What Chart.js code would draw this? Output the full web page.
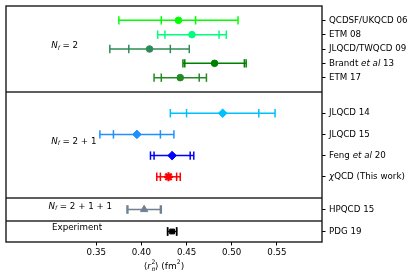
<!DOCTYPE html>
<html lang="en">
<head>
<meta charset="UTF-8">
<title>Pion charge radius</title>
<script src="https://cdn.jsdelivr.net/npm/chart.js"></script>
<style>
    html, body { margin: 0; padding: 0; background: #fff; }
    #wrap { position: relative; width: 415px; height: 280px; }
    canvas { position: absolute; left: 0; display: block; }
</style>
</head>
<body>
<div id="wrap">
    <canvas id="g0" width="415" height="92" style="top:0px"></canvas>
    <canvas id="g1" width="415" height="106" style="top:92px"></canvas>
    <canvas id="g2" width="415" height="23" style="top:198px"></canvas>
    <canvas id="g3" width="415" height="59" style="top:221px"></canvas>
</div>
<script>
// data (top to bottom)
const labels = ['QCDSF/UKQCD 06', 'ETM 08', 'JLQCD/TWQCD 09', 'Brandt *et al* 13', 'ETM 17',
                'JLQCD 14', 'JLQCD 15', 'Feng *et al* 20', '*χ*QCD (This work)',
                'HPQCD 15', 'PDG 19'];
const values   = [0.441, 0.456, 0.409, 0.481, 0.443, 0.490, 0.395, 0.434, 0.430, 0.403, 0.434];
const statErr  = [0.019, 0.030, 0.023, 0.033, 0.021, 0.040, 0.026, 0.020, 0.009, 0.018, 0.005];
const totalErr = [0.066, 0.038, 0.044, 0.035, 0.029, 0.058, 0.041, 0.024, 0.013, 0.019, 0.005];
const group    = [0, 0, 0, 0, 0, 1, 1, 1, 1, 2, 3];
const groupTitles = ['N_f = 2', 'N_f = 2 + 1', 'N_f = 2 + 1 + 1', 'Experiment'];
const xTicks = [0.35, 0.40, 0.45, 0.50, 0.55];

// styles
const colors  = ['#00ff00', '#00ff7f', '#2e8b57', '#008000', '#228b22',
                 '#00bfff', '#1e90ff', '#0000ff', '#ff0000', '#708090', '#000000'];
const markers = ['circle', 'circle', 'circle', 'circle', 'circle',
                 'rectRot', 'rectRot', 'rectRot', 'star', 'triangle', 'rect'];
const markerSize = { circle: 3.3, rectRot: 4.3, star: 4.5, triangle: 4.2, rect: 3.4 };
const titleAt = [[0.300, 1.8], [0.300, 1.33], [0.297, -0.24], [0.301, -0.33]];

const FONT = 'DejaVu Sans';
const FS = 8.7;

function drawParts(ctx, parts, x, y) {
    parts.forEach(p => {
        ctx.font = (p.it ? 'italic ' : '') + p.size + 'px "' + FONT + '"';
        ctx.fillText(p.t, x, y + (p.dy || 0));
        x += ctx.measureText(p.t).width;
    });
}
// *...* marks italic text
function parseLabel(s) {
    return s.split('*').map((t, k) => ({ t: t, it: k % 2 === 1, size: FS })).filter(p => p.t);
}
function parseTitle(s) {
    if (s.startsWith('N_f')) {
        return [{ t: 'N', it: true, size: FS }, { t: 'f', it: true, size: FS * 0.7, dy: 2 },
                { t: s.slice(3), size: FS }];
    }
    return [{ t: s, size: FS }];
}

function makeChart(g) {
    const idx = labels.map((_, i) => i).filter(i => group[i] === g);
    const n = idx.length;
    const last = g === 3;

    const deco = {
        id: 'deco' + g,
        beforeDatasetsDraw(chart) {
            const ctx = chart.ctx, xs = chart.scales.x, ys = chart.scales.y;
            ctx.save();
            idx.forEach((i, j) => {
                const y = ys.getPixelForValue(j);
                ctx.strokeStyle = colors[i];
                ctx.lineWidth = 1.5;
                ctx.beginPath();
                ctx.moveTo(xs.getPixelForValue(values[i] - totalErr[i]), y);
                ctx.lineTo(xs.getPixelForValue(values[i] + totalErr[i]), y);
                ctx.stroke();
                [values[i] - statErr[i], values[i] + statErr[i], values[i] - totalErr[i], values[i] + totalErr[i]].forEach(v => {
                    const x = xs.getPixelForValue(v);
                    ctx.beginPath();
                    ctx.moveTo(x, y - 4.2);
                    ctx.lineTo(x, y + 4.2);
                    ctx.stroke();
                });
            });
            ctx.restore();
        },
        afterDraw(chart) {
            const ctx = chart.ctx, xs = chart.scales.x, ys = chart.scales.y, a = chart.chartArea;
            ctx.save();
            // frame
            ctx.strokeStyle = '#1a1a1a';
            ctx.lineWidth = 1.4;
            ctx.strokeRect(a.left, a.top, a.right - a.left, a.bottom - a.top);
            // y labels on the right
            ctx.fillStyle = '#000';
            ctx.textBaseline = 'middle';
            ctx.textAlign = 'left';
            idx.forEach((i, j) => {
                drawParts(ctx, parseLabel(labels[i]), a.right + 7, ys.getPixelForValue(j));
            });
            // group title
            drawParts(ctx, parseTitle(groupTitles[g]), xs.getPixelForValue(titleAt[g][0]), ys.getPixelForValue(titleAt[g][1]));
            // x axis title
            if (last) {
                const cx = (a.left + a.right) / 2, cy = a.bottom + 24.7;
                const big = FS + 0.3, small = FS * 0.7;
                const f = (it, s) => (it ? 'italic ' : '') + s + 'px "' + FONT + '"';
                const segs = [['⟨', false, big], ['r', true, big], ['  ', false, small], ['⟩ (fm', false, big], ['2', false, small], [')', false, big]];
                let w = 0;
                segs.forEach(s => { ctx.font = f(s[1], s[2]); w += ctx.measureText(s[0]).width; });
                let x = cx - w / 2;
                segs.forEach((s, k) => {
                    ctx.font = f(s[1], s[2]);
                    const sw = ctx.measureText(s[0]).width;
                    if (k === 2) {
                        ctx.font = f(false, small);
                        ctx.fillText('2', x + 0.5, cy - 4);
                        ctx.font = f(true, small);
                        ctx.fillText('π', x + 0.5, cy + 3);
                    } else if (k === 4) {
                        ctx.fillText(s[0], x, cy - 4);
                    } else {
                        ctx.fillText(s[0], x, cy);
                    }
                    x += sw;
                });
            }
            ctx.restore();
        }
    };

    return new Chart(document.getElementById('g' + g), {
        type: 'scatter',
        data: {
            datasets: [{
                data: idx.map((i, j) => ({ x: values[i], y: j })),
                pointStyle: idx.map(i => markers[i]),
                pointRadius: idx.map(i => markerSize[markers[i]]),
                pointBackgroundColor: idx.map(i => colors[i]),
                pointBorderColor: idx.map(i => colors[i]),
                pointBorderWidth: idx.map(i => markers[i] === 'star' ? 2.2 : 1),
                pointHoverRadius: idx.map(i => markerSize[markers[i]]),
                clip: false
            }]
        },
        options: {
            responsive: false,
            maintainAspectRatio: false,
            devicePixelRatio: 1,
            animation: false,
            layout: { autoPadding: false, padding: { left: 6, top: g === 0 ? 6 : 0, right: 0, bottom: 0 } },
            plugins: { legend: { display: false }, tooltip: { enabled: false } },
            scales: {
                x: {
                    type: 'linear',
                    display: last,
                    min: 0.25,
                    max: 0.60,
                    afterBuildTicks: s => { s.ticks = xTicks.map(v => ({ value: v })); },
                    afterFit: s => { s.height = last ? 38 : 0; },
                    border: { display: false },
                    grid: { drawOnChartArea: false, drawTicks: true, tickLength: 3.5, color: '#000', tickWidth: 1 },
                    ticks: {
                        color: '#000',
                        padding: 2,
                        maxRotation: 0,
                        font: { family: FONT, size: FS },
                        callback: v => v.toFixed(2)
                    }
                },
                y: {
                    type: 'linear',
                    position: 'right',
                    reverse: true,
                    min: -1,
                    max: n === 1 ? 1 : n,
                    afterBuildTicks: s => { s.ticks = idx.map((_, j) => ({ value: j })); },
                    afterFit: s => { s.width = 93; },
                    border: { display: false },
                    grid: { drawOnChartArea: false, drawTicks: true, tickLength: 3.5, color: '#000', tickWidth: 1 },
                    ticks: { display: false }
                }
            }
        },
        plugins: [deco]
    });
}

[0, 1, 2, 3].forEach(makeChart);
</script>
</body>
</html>
